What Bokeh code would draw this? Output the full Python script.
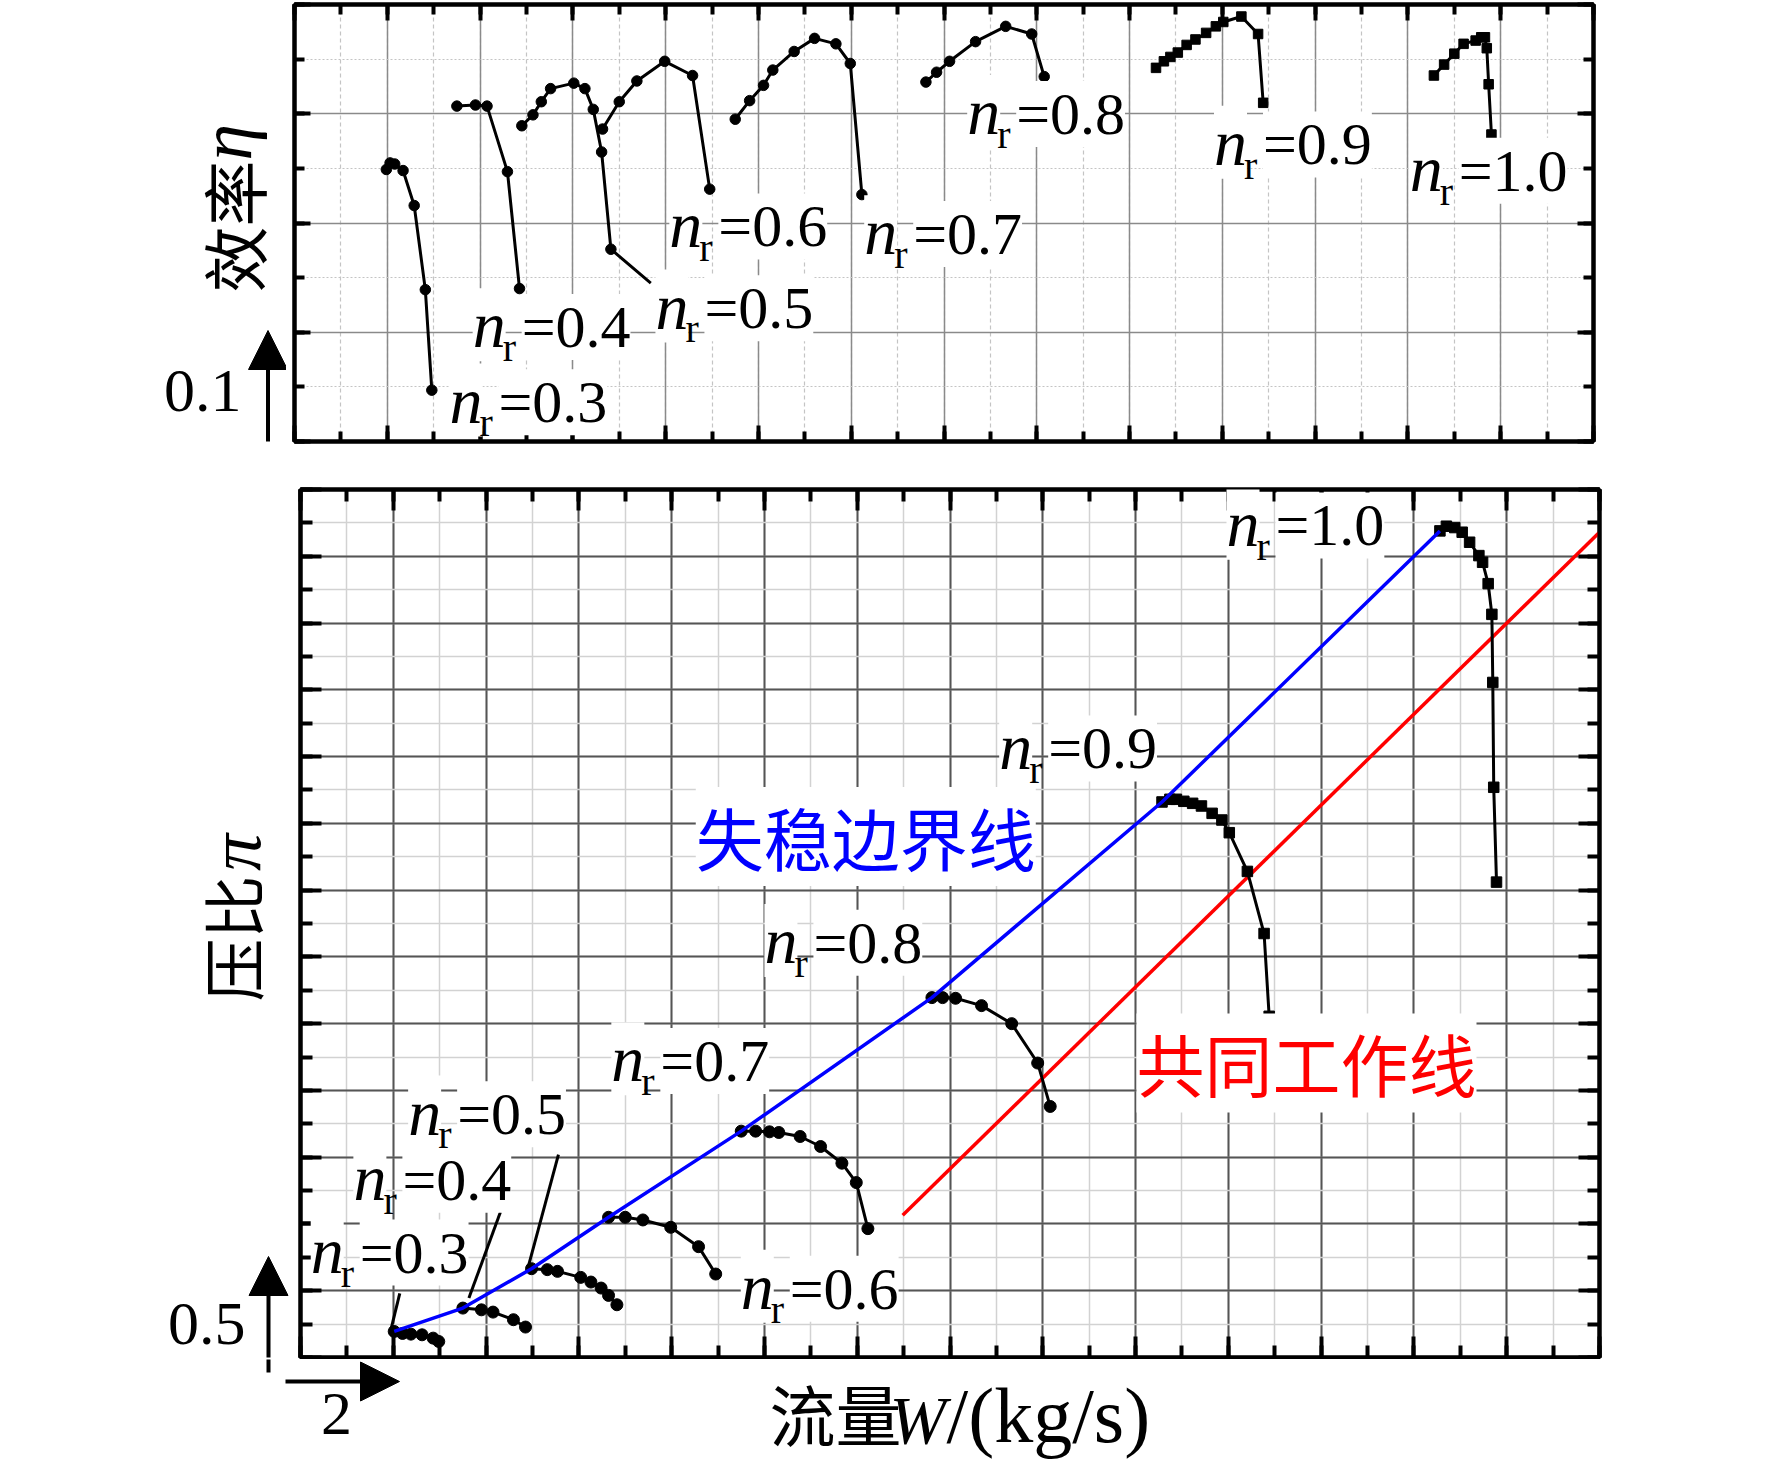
import math
from bokeh.plotting import figure
from bokeh.models import (Range1d, LinearAxis, SingleIntervalTicker, Grid, Label,
                          Arrow, NormalHead)
from bokeh.layouts import column, row
from bokeh.embed import file_html
from bokeh.resources import INLINE

# ---------------- data ----------------
speeds = ["0.3", "0.4", "0.5", "0.6", "0.7", "0.8", "0.9", "1.0"]

# efficiency map (top panel)
eW_03 = [1.98, 2.06, 2.16, 2.34, 2.58, 2.82, 2.96]
eta_03 = [0.649, 0.655, 0.654, 0.648, 0.616, 0.539, 0.447]
eW_04 = [3.50, 3.90, 4.15, 4.59, 4.85]
eta_04 = [0.707, 0.708, 0.707, 0.647, 0.540]
eW_05 = [4.90, 5.14, 5.32, 5.52, 6.02, 6.26, 6.44, 6.62, 6.82, 7.68]
eta_05 = [0.689, 0.699, 0.711, 0.723, 0.728, 0.723, 0.704, 0.665, 0.576, 0.545]
eW_06 = [6.64, 7.00, 7.38, 7.98, 8.58, 8.95]
eta_06 = [0.686, 0.711, 0.730, 0.748, 0.735, 0.631]
eW_07 = [9.50, 9.81, 10.11, 10.31, 10.77, 11.21, 11.67, 11.98, 12.23]
eta_07 = [0.695, 0.712, 0.726, 0.740, 0.757, 0.769, 0.764, 0.746, 0.626]
eW_08 = [13.61, 13.84, 14.12, 14.68, 15.33, 15.89, 16.16]
eta_08 = [0.729, 0.738, 0.748, 0.766, 0.780, 0.773, 0.734]
eW_09 = [18.57, 18.74, 18.88, 19.04, 19.23, 19.42, 19.65, 19.86, 20.02, 20.41, 20.77, 20.88]
eta_09 = [0.742, 0.748, 0.752, 0.756, 0.763, 0.768, 0.774, 0.780, 0.784, 0.789, 0.773, 0.710]
eW_10 = [24.56, 24.78, 25.00, 25.20, 25.46, 25.58, 25.66, 25.70, 25.74, 25.80]
eta_10 = [0.735, 0.745, 0.755, 0.764, 0.767, 0.770, 0.770, 0.760, 0.727, 0.681]

# pressure-ratio map (bottom panel)
pW_03 = [2.02, 2.20, 2.38, 2.62, 2.86, 2.98]
pi_03 = [1.195, 1.180, 1.175, 1.170, 1.145, 1.120]
pW_04 = [3.50, 3.90, 4.15, 4.59, 4.85]
pi_04 = [1.370, 1.357, 1.340, 1.283, 1.228]
pW_05 = [4.98, 5.32, 5.54, 6.04, 6.26, 6.48, 6.64, 6.82]
pi_05 = [1.665, 1.658, 1.645, 1.600, 1.565, 1.520, 1.465, 1.395]
pW_06 = [6.64, 7.00, 7.38, 7.98, 8.58, 8.95]
pi_06 = [2.050, 2.050, 2.030, 1.975, 1.830, 1.625]
pW_07 = [9.50, 9.81, 10.11, 10.31, 10.77, 11.21, 11.67, 11.98, 12.23]
pi_07 = [2.695, 2.695, 2.690, 2.685, 2.655, 2.580, 2.455, 2.310, 1.965]
pW_08 = [13.61, 13.84, 14.12, 14.68, 15.33, 15.89, 16.16]
pi_08 = [3.695, 3.695, 3.690, 3.635, 3.500, 3.205, 2.880]
pW_09 = [18.57, 18.74, 18.88, 19.04, 19.23, 19.42, 19.65, 19.86, 20.02, 20.41, 20.77, 20.88]
pi_09 = [5.160, 5.180, 5.180, 5.165, 5.150, 5.130, 5.075, 5.025, 4.930, 4.640, 4.175, 3.555]
pW_10 = [24.56, 24.70, 24.88, 25.04, 25.20, 25.40, 25.48, 25.60, 25.68, 25.70, 25.72, 25.78]
pi_10 = [7.190, 7.225, 7.215, 7.180, 7.105, 7.005, 6.955, 6.795, 6.565, 6.055, 5.270, 4.560]

# common working line
work_W = [12.98, 28.0]
work_pi = [2.065, 7.18]

# speed-line label anchors (left x, baseline y)
top_lab_W = [3.34, 3.84, 7.78, 8.08, 12.28, 14.5, 19.82, 24.04]
top_lab_eta = [0.415, 0.484, 0.501, 0.576, 0.569, 0.679, 0.651, 0.627]
bot_lab_W = [0.22, 1.14, 2.32, 9.49, 6.70, 10.0, 15.06, 19.96]
bot_lab_pi = [1.615, 2.16, 2.65, 1.345, 3.05, 3.935, 5.39, 7.06]

# leader lines (low speeds, bottom panel)
lead_W0 = [2.14, 4.31, 5.56]
lead_pi0 = [1.48, 2.09, 2.52]
lead_W1 = [1.95, 3.63, 4.91]
lead_pi1 = [1.21, 1.445, 1.68]

# axis ranges / tick spacing
X0, X1, XSTEP = 0.0, 28.0, 2.0
E0, E1, ESTEP = 0.4, 0.8, 0.1
P0, P1, PSTEP = 1.0, 7.5, 0.5

SERIF = "Liberation Serif"
CJK = "Noto Sans CJK SC"
ALPHA_FIX = 0.38   # raise for alphabetic-baseline labels (fraction of font size)
MID_FIX = 0.13     # raise for middle-baseline CJK labels

# page geometry (pixels)
TOP_H, BOT_H, STRIP_H = 462, 897, 106
TOP_B = (4, 21)       # min_border top / bottom of the upper panel
BOT_B = (27, 2)       # min_border top / bottom of the lower panel


def style_axis(ax, maj, mnr):
    ax.major_label_text_font_size = "0px"
    ax.major_label_text_color = None
    ax.major_label_standoff = 0
    ax.major_tick_in = maj
    ax.major_tick_out = 0
    ax.minor_tick_in = mnr
    ax.minor_tick_out = 0
    ax.major_tick_line_width = 4
    ax.minor_tick_line_width = 4
    ax.major_tick_line_color = "black"
    ax.minor_tick_line_color = "black"
    ax.axis_line_color = "black"
    ax.axis_line_width = 4


def make_fig(w, h, l, r, t, b, yr, ystep, maj, mnr, grid_style):
    p = figure(width=w, height=h, x_range=Range1d(X0, X1), y_range=yr,
               output_backend="svg", toolbar_location=None, title=None,
               x_axis_type=None, y_axis_type=None,
               min_border_left=l, min_border_right=r, min_border_top=t,
               min_border_bottom=b)
    p.background_fill_color = "white"
    p.border_fill_color = "white"
    p.outline_line_color = "black"
    p.outline_line_width = 4
    for loc, dim in (("below", 0), ("above", 0), ("left", 1), ("right", 1)):
        tk = SingleIntervalTicker(interval=XSTEP if dim == 0 else ystep, num_minor_ticks=2)
        ax = LinearAxis(ticker=tk)
        style_axis(ax, maj, mnr)
        p.add_layout(ax, loc)
    for dim in (0, 1):
        tk = SingleIntervalTicker(interval=XSTEP if dim == 0 else ystep, num_minor_ticks=2)
        g = Grid(dimension=dim, ticker=tk, **grid_style[dim])
        g.level = "underlay"
        p.add_layout(g)
    return p


def strip(w, h, top=0, bottom=0, y_top=0.0, y_bot=None):
    """Blank annotation panel whose data units are page pixels."""
    if y_bot is None:
        y_bot = float(h)
    s = figure(width=w, height=h, x_range=Range1d(0, w), y_range=Range1d(y_bot, y_top),
               output_backend="svg", toolbar_location=None, title=None,
               x_axis_type=None, y_axis_type=None, min_border_left=0, min_border_right=0,
               min_border_top=top, min_border_bottom=bottom)
    s.outline_line_color = None
    s.background_fill_color = "white"
    s.border_fill_color = "white"
    s.xgrid.visible = False
    s.ygrid.visible = False
    return s


def txt(p, x, y, s, size, font=SERIF, style="normal", align="left", base="alphabetic",
        angle=0.0, color="black", bg=None, dx=0, dy=0):
    px = int(size.replace("px", ""))
    if base == "alphabetic":
        dy += ALPHA_FIX * px
    elif base == "middle" and font == CJK and angle == 0:
        dy += MID_FIX * px
    p.add_layout(Label(x=x, y=y, x_offset=dx, y_offset=dy, text=s, text_font=font,
                       text_font_style=style, text_font_size=size, text_align=align,
                       text_baseline=base, angle=angle, text_color=color,
                       background_fill_color=bg))


def nr_label(p, x, y, val):
    txt(p, x, y, "n", "66px", style="italic", bg="white")
    txt(p, x, y, "=" + val, "60px", bg="white", dx=49)
    txt(p, x, y, "r", "40px", dx=30, dy=-13)


# ---------------- top panel: efficiency ----------------
top_grid = [
    dict(grid_line_color="#8a8a8a", grid_line_width=1.5,
         minor_grid_line_color="#c4c4c4", minor_grid_line_width=1.2, minor_grid_line_dash="4 3"),
    dict(grid_line_color="#8a8a8a", grid_line_width=1.5,
         minor_grid_line_color="#c4c4c4", minor_grid_line_width=1.2, minor_grid_line_dash="2 2"),
]
p1 = make_fig(1414, TOP_H, 8, 107, TOP_B[0], TOP_B[1], Range1d(E0, E1), ESTEP, 16, 10, top_grid)

top_curves = [(eW_03, eta_03, "circle"), (eW_04, eta_04, "circle"), (eW_05, eta_05, "circle"),
              (eW_06, eta_06, "circle"), (eW_07, eta_07, "circle"), (eW_08, eta_08, "circle"),
              (eW_09, eta_09, "square"), (eW_10, eta_10, "square")]
for i, (xs, ys, mk) in enumerate(top_curves):
    p1.line(xs, ys, line_color="black", line_width=3)
    n = len(xs) - 1 if i == 2 else len(xs)   # last point of n_r=0.5 has no marker
    p1.scatter(xs[:n], ys[:n], marker=mk, size=10.5 if mk == "circle" else 9.5, color="black")

for x, y, s in zip(top_lab_W, top_lab_eta, speeds):
    nr_label(p1, x, y, s)

# left strip of the top panel (frame aligned with the panel, units = page px)
L1 = strip(286, TOP_H, TOP_B[0], TOP_B[1], y_top=TOP_B[0], y_bot=TOP_H - TOP_B[1])
txt(L1, 235, 226, "效率", "66px", font=CJK, align="center", base="middle",
    angle=math.pi / 2, dx=-4)
txt(L1, 225, 142, "η", "74px", style="italic", align="center", base="middle", angle=math.pi / 2)
txt(L1, 241, 414, "0.1", "62px", align="right")
L1.add_layout(Arrow(end=NormalHead(size=39, fill_color="black", line_color="black"),
                    x_start=267.5, y_start=445, x_end=267.5, y_end=330,
                    line_width=4, line_color="black"))

# ---------------- bottom panel: pressure ratio ----------------
bot_grid = [
    dict(grid_line_color="#555555", grid_line_width=2,
         minor_grid_line_color="#d2d2d2", minor_grid_line_width=1.5),
    dict(grid_line_color="#555555", grid_line_width=2,
         minor_grid_line_color="#d2d2d2", minor_grid_line_width=1.5),
]
p2 = make_fig(1408, BOT_H, 8, 101, BOT_B[0], BOT_B[1], Range1d(P0, P1), PSTEP, 21, 12, bot_grid)

p2.line(work_W, work_pi, line_color="#ff0000", line_width=3.5)

bot_curves = [(pW_03, pi_03, "circle"), (pW_04, pi_04, "circle"), (pW_05, pi_05, "circle"),
              (pW_06, pi_06, "circle"), (pW_07, pi_07, "circle"), (pW_08, pi_08, "circle"),
              (pW_09, pi_09, "square"), (pW_10, pi_10, "square")]
for xs, ys, mk in bot_curves:
    p2.line(xs, ys, line_color="black", line_width=3)
    p2.scatter(xs, ys, marker=mk, size=12 if mk == "circle" else 10.5, color="black")

# surge line through the first point of each speed line
surge_W = [c[0][0] for c in bot_curves]
surge_pi = [c[1][0] for c in bot_curves]
p2.line(surge_W, surge_pi, line_color="#0000ff", line_width=3.5)

p2.segment(lead_W0, lead_pi0, lead_W1, lead_pi1, line_color="black", line_width=3)

for x, y, s in zip(bot_lab_W, bot_lab_pi, speeds):
    nr_label(p2, x, y, s)

txt(p2, 8.52, 4.835, "失稳边界线", "68px", font=CJK, base="middle", color="#0000ff", bg="white")
txt(p2, 18.02, 3.14, "共同工作线", "68px", font=CJK, base="middle", color="#ff0000", bg="white")

# left strip of the bottom panel (page px, row starts at y=TOP_H)
y0 = TOP_H
L2 = strip(292, BOT_H, BOT_B[0], BOT_B[1], y_top=y0 + BOT_B[0], y_bot=y0 + BOT_H - BOT_B[1])
txt(L2, 234, 938, "压比", "63px", font=CJK, align="center", base="middle",
    angle=math.pi / 2, dx=-4)
txt(L2, 234, 852, "π", "74px", style="italic", align="center", base="middle", angle=math.pi / 2)
txt(L2, 245, 1347, "0.5", "62px", align="right")
L2.add_layout(Arrow(end=NormalHead(size=39, fill_color="black", line_color="black"),
                    x_start=268, y_start=1362, x_end=268, y_end=1256,
                    line_width=4, line_color="black"))

# bottom strip: x title and scale arrow (page px, starts at y=TOP_H+BOT_H)
y1 = TOP_H + BOT_H
B3 = strip(1700, STRIP_H, y_top=y1, y_bot=y1 + STRIP_H)
B3.segment([268], [y1 - 3], [268], [1372], line_color="black", line_width=4)
B3.add_layout(Arrow(end=NormalHead(size=39, fill_color="black", line_color="black"),
                    x_start=285, y_start=1381, x_end=399, y_end=1381,
                    line_width=4, line_color="black"))
txt(B3, 336, 1437, "2", "62px", align="center")
txt(B3, 835, 1420, "流量", "66px", font=CJK, align="center", base="middle")
txt(B3, 889, 1445, "W", "68px", style="italic")
txt(B3, 946, 1445, "/(kg/s)", "78px")

page = column(row(L1, p1, spacing=0), row(L2, p2, spacing=0), B3, spacing=0)
open("out.html", "w").write(file_html(page, INLINE))
